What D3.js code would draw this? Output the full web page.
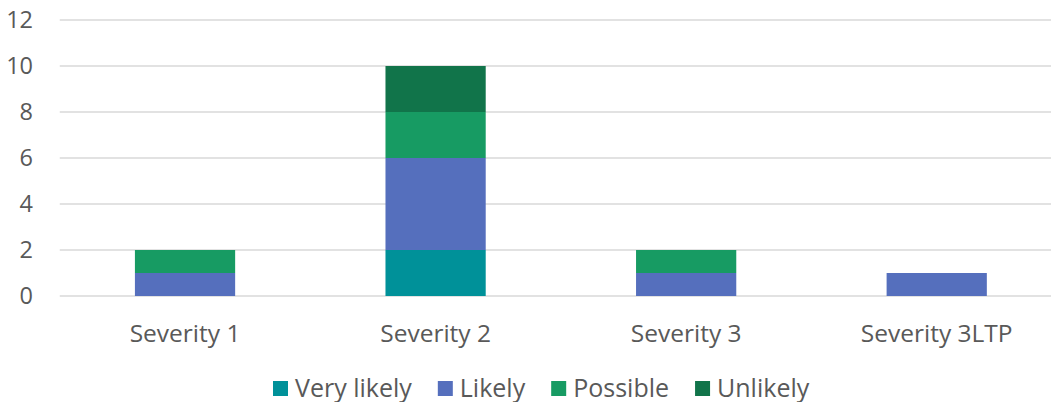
<!DOCTYPE html>
<html>
<head>
<meta charset="utf-8">
<script src="https://cdn.jsdelivr.net/npm/d3@7"></script>
<style>
  body { margin: 0; background: #fff; }
  text { font-family: "Open Sans", sans-serif; fill: #595959; }
</style>
</head>
<body>
<svg id="chart" width="1051" height="402"></svg>
<script>
const categories = ["Severity 1", "Severity 2", "Severity 3", "Severity 3LTP"];
const seriesNames = ["Very likely", "Likely", "Possible", "Unlikely"];
const veryLikely = [0, 2, 0, 0];
const likely = [1, 4, 1, 1];
const possible = [1, 2, 1, 0];
const unlikely = [0, 2, 0, 0];
const yTicks = [0, 2, 4, 6, 8, 10, 12];
const colors = ["#009199", "#556fbd", "#179b63", "#11744a"];

const table = categories.map((c, i) => ({
    category: c,
    "Very likely": veryLikely[i],
    "Likely": likely[i],
    "Possible": possible[i],
    "Unlikely": unlikely[i]
}));

const svg = d3.select("#chart");
const plotLeft = 59.75, plotRight = 1062, plotTop = 20, plotBottom = 296;

const x = d3.scaleBand().domain(categories).range([plotLeft, plotRight]).paddingInner(0.6).paddingOuter(0.3);
const y = d3.scaleLinear().domain([0, 12]).range([plotBottom, plotTop]);

// gridlines
svg.append("g")
    .selectAll("line")
    .data(yTicks)
    .enter()
    .append("line")
    .attr("x1", plotLeft)
    .attr("x2", 1051)
    .attr("y1", d => y(d))
    .attr("y2", d => y(d))
    .attr("stroke", "#d9d9d9")
    .attr("stroke-width", 1.5);

// y tick labels
svg.append("g")
    .selectAll("text")
    .data(yTicks)
    .enter()
    .append("text")
    .attr("x", 33)
    .attr("y", d => y(d))
    .attr("dy", "0.36em")
    .attr("text-anchor", "end")
    .style("font-size", "23.5px")
    .text(d => d);

const stack = d3.stack().keys(seriesNames)(table);

svg.append("g")
    .selectAll("g")
    .data(stack)
    .enter()
    .append("g")
    .attr("fill", (d, i) => colors[i])
    .selectAll("rect")
    .data(d => d.filter(s => s[1] - s[0] > 0))
    .enter()
    .append("rect")
    .attr("x", d => x(d.data.category))
    .attr("width", x.bandwidth())
    .attr("y", d => y(d[1]))
    .attr("height", d => y(d[0]) - y(d[1]));

// category labels
svg.append("g")
    .selectAll("text")
    .data(categories)
    .enter()
    .append("text")
    .attr("x", d => x(d) + x.bandwidth() / 2)
    .attr("y", 342)
    .attr("text-anchor", "middle")
    .style("font-size", "24.5px")
    .text(d => d);

// legend: laid out left to right, measured from the text
const legend = svg.append("g").attr("transform", "translate(273, 381)");
let lx = 0;
seriesNames.forEach((name, i) => {
    const item = legend.append("g").attr("transform", `translate(${lx}, 0)`);
    item.append("rect")
        .attr("width", 15)
        .attr("height", 15)
        .attr("fill", colors[i]);
    const t = item.append("text")
        .attr("x", 22)
        .attr("y", 15.5)
        .style("font-size", "25px")
        .text(name);
    lx += 22 + t.node().getComputedTextLength() + 26;
});
</script>
</body>
</html>
